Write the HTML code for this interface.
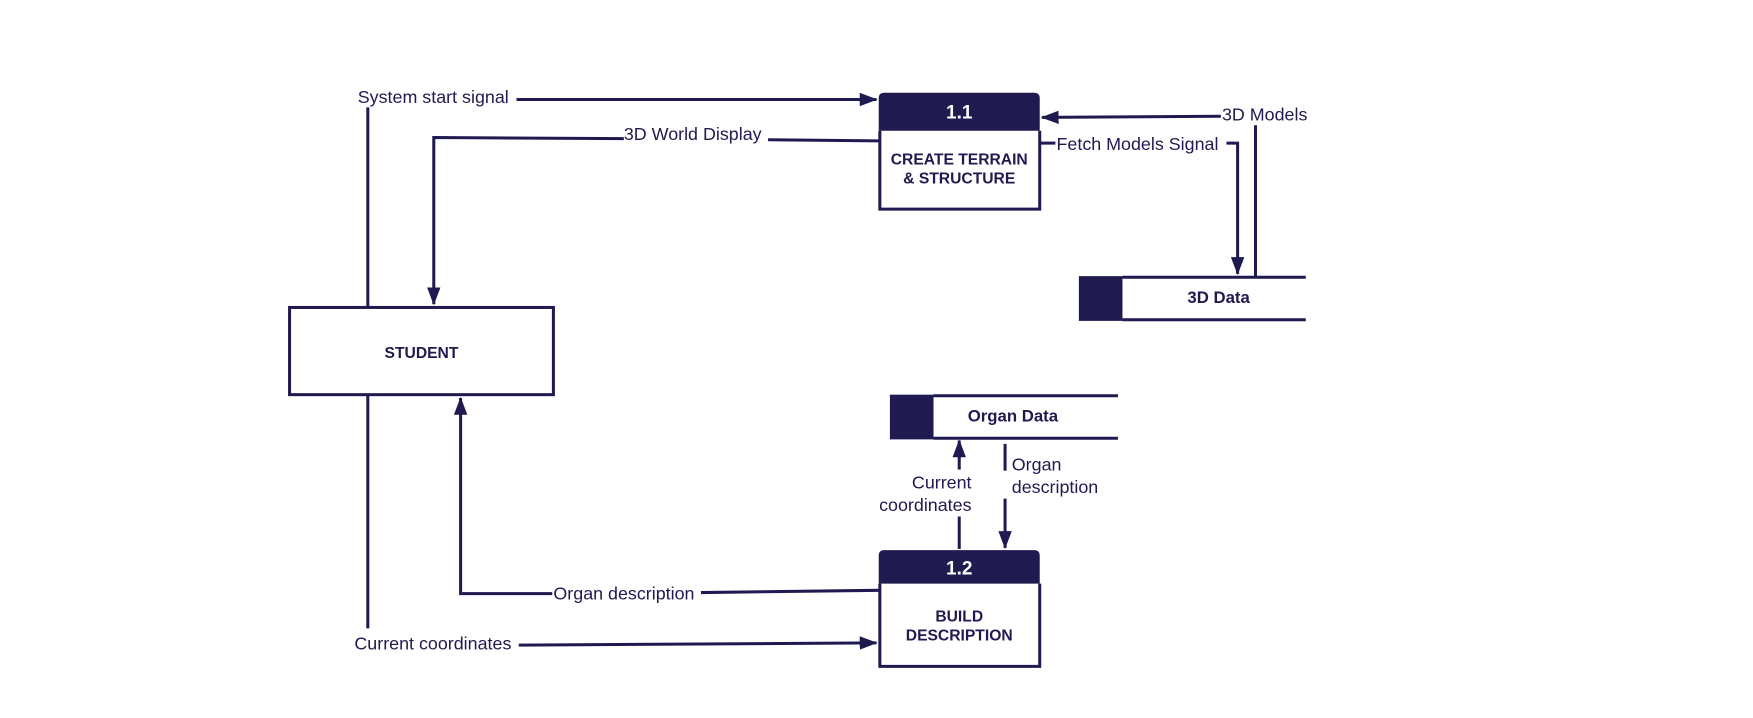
<!DOCTYPE html>
<html><head><meta charset="utf-8"><style>
html,body{margin:0;padding:0;background:#fff;}
svg{display:block;}
text{font-family:"Liberation Sans",Arial,sans-serif;fill:#1f1a4f;}
.l{font-size:16px;}
.b{font-size:14px;font-weight:bold;}
</style></head><body>
<svg width="1753" height="718" viewBox="0 0 1568 642.2" preserveAspectRatio="none" xmlns="http://www.w3.org/2000/svg">
<defs>
<marker id="a2" markerWidth="16" markerHeight="12" refX="15" refY="6" orient="auto" markerUnits="userSpaceOnUse">
<path d="M0,0 L16,6 L0,12 z" fill="#1f1a4f"/>
</marker>
</defs>
<g stroke="#1f1a4f" stroke-width="2.7" fill="none">
<rect x="259" y="275" width="236" height="78" fill="#fff"/>
<path d="M787,117 V187 H930 V117" fill="#fff"/>
<path d="M787,522 V596 H930 V522" fill="#fff"/>
<path d="M1004,248 H1168 M1004,286 H1168"/>
<path d="M835,354 H1000 M835,392 H1000"/>
<path d="M329,274 V96"/>
<path d="M462,89 L784,89" marker-end="url(#a2)"/>
<path d="M786,126 L687,125"/>
<path d="M558,124 L388,123 V272" marker-end="url(#a2)"/>
<path d="M1123,248 V112"/>
<path d="M1092,104 L932,105" marker-end="url(#a2)"/>
<path d="M931,128 H944"/>
<path d="M1097,128 H1107 V245" marker-end="url(#a2)"/>
<path d="M786,528 L627,530"/>
<path d="M494,531 L412,531 V356" marker-end="url(#a2)"/>
<path d="M329,354 V562"/>
<path d="M464,577 L784,575" marker-end="url(#a2)"/>
<path d="M858,491 V462"/>
<path d="M858,420 V394" marker-end="url(#a2)"/>
<path d="M899,397 V421"/>
<path d="M899,446 V490" marker-end="url(#a2)"/>
</g>
<path d="M786,117 V88 Q786,83 791,83 H925 Q930,83 930,88 V117 Z" fill="#1f1a4f"/>
<path d="M786,522 V497 Q786,492 791,492 H925 Q930,492 930,497 V522 Z" fill="#1f1a4f"/>
<rect x="965" y="247" width="39" height="40" fill="#1f1a4f"/>
<rect x="796" y="353" width="39" height="40" fill="#1f1a4f"/>

<text x="858" y="106" text-anchor="middle" font-size="17" font-weight="bold" style="fill:#fff">1.1</text>
<text x="858" y="147" text-anchor="middle" class="b">CREATE TERRAIN</text>
<text x="858" y="164" text-anchor="middle" class="b">&amp; STRUCTURE</text>
<text x="858" y="514" text-anchor="middle" font-size="17" font-weight="bold" style="fill:#fff">1.2</text>
<text x="858" y="556" text-anchor="middle" class="b">BUILD</text>
<text x="858" y="573" text-anchor="middle" class="b">DESCRIPTION</text>
<text x="377" y="320" text-anchor="middle" class="b" font-size="15">STUDENT</text>
<text x="1090" y="271" text-anchor="middle" font-size="15" font-weight="bold">3D Data</text>
<text x="906" y="377" text-anchor="middle" font-size="15" font-weight="bold">Organ Data</text>

<text x="320" y="92" class="l">System start signal</text>
<text x="558" y="125" class="l">3D World Display</text>
<text x="1093" y="108" class="l">3D Models</text>
<text x="945" y="134" class="l">Fetch Models Signal</text>
<text x="495" y="536" class="l">Organ description</text>
<text x="317" y="581" class="l">Current coordinates</text>
<text x="869" y="437" text-anchor="end" class="l">Current</text>
<text x="869" y="457" text-anchor="end" class="l">coordinates</text>
<text x="905" y="421" class="l">Organ</text>
<text x="905" y="441" class="l">description</text>
</svg>
</body></html>
